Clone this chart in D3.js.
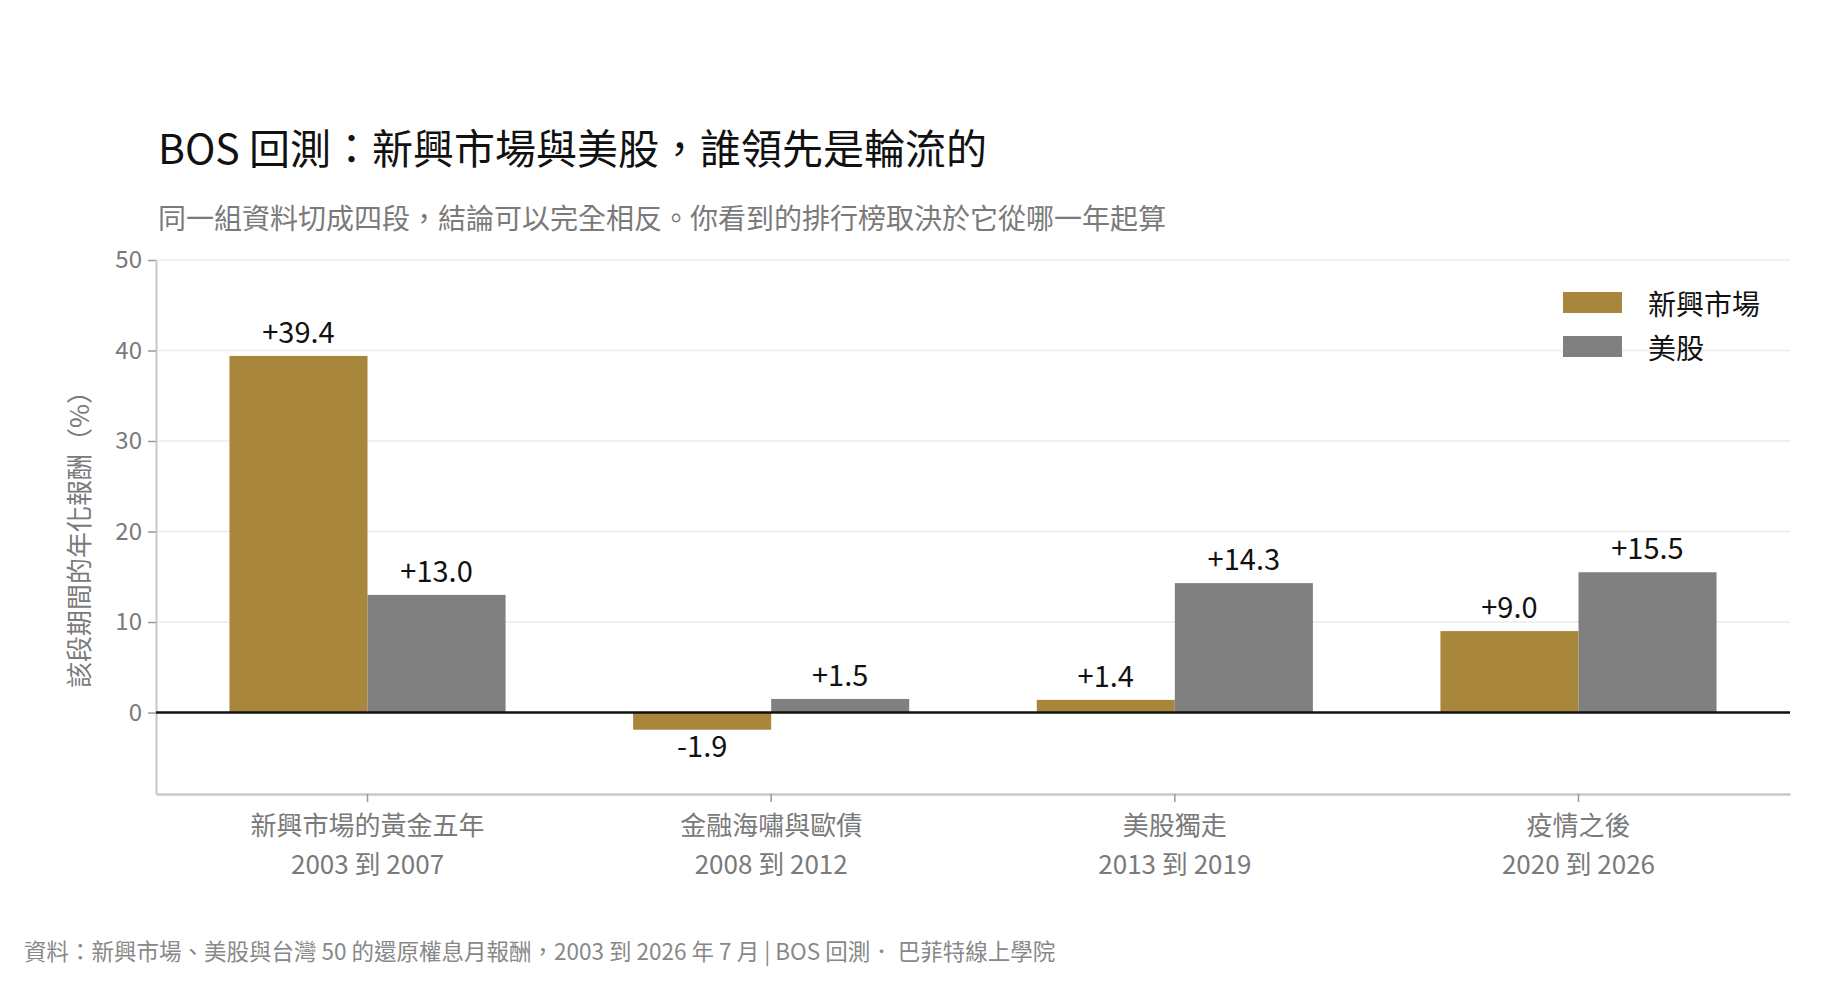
<!DOCTYPE html>
<html><head><meta charset="utf-8">
<script src="https://cdn.jsdelivr.net/npm/d3@7"></script>
<style>
html,body{margin:0;padding:0;background:#fff;}
svg text{font-family:"Noto Sans CJK TC","Noto Sans",sans-serif;}
</style></head>
<body>
<svg id="chart" width="1836" height="986"></svg>
<script>
const categories = ["新興市場的黃金五年","金融海嘯與歐債","美股獨走","疫情之後"];
const periods = ["2003 到 2007","2008 到 2012","2013 到 2019","2020 到 2026"];
const seriesNames = ["新興市場","美股"];
const emValues = [39.4, -1.9, 1.4, 9.0];
const usValues = [13.0, 1.5, 14.3, 15.5];
const yTicks = [0,10,20,30,40,50];
const colors = ["#a8873c","#808080"];

const svg = d3.select("#chart");
const L=156, R=1790, T=260, B=794;

const x0 = d3.scaleBand().domain(categories).range([L,R]).paddingInner(0.316).paddingOuter(0.182);
const x1 = d3.scaleBand().domain(seriesNames).range([0,x0.bandwidth()]);
const y = d3.scaleLinear().domain([-9,50]).range([B,T]);

// gridlines
svg.append("g").selectAll("line").data(yTicks).join("line")
  .attr("x1",L).attr("x2",R).attr("y1",d=>y(d)).attr("y2",d=>y(d))
  .attr("stroke","#ebebeb").attr("stroke-width",1.5);

// left axis
const ga = svg.append("g").attr("transform",`translate(${L},0)`)
  .call(d3.axisLeft(y).tickValues(yTicks).tickSize(8).tickSizeOuter(0).tickPadding(6));
ga.select(".domain").attr("stroke","#c8c8c8").attr("stroke-width",2);
ga.selectAll(".tick line").attr("stroke","#999").attr("stroke-width",1.5);
ga.selectAll(".tick text").attr("fill","#7a7a7a").attr("font-size",24)
  .style("font-family",'"Noto Sans CJK TC",sans-serif');

// bottom axis
const gb = svg.append("g").attr("transform",`translate(0,${B})`)
  .call(d3.axisBottom(x0).tickSize(8).tickSizeOuter(0).tickFormat(""));
gb.select(".domain").attr("stroke","#c8c8c8").attr("stroke-width",2.5);
gb.selectAll(".tick line").attr("stroke","#999").attr("stroke-width",1.5);

// category labels
const catG = svg.append("g");
categories.forEach((c,i)=>{
  const cx = x0(c)+x0.bandwidth()/2;
  catG.append("text").attr("x",cx).attr("y",823).attr("text-anchor","middle")
    .attr("dominant-baseline","central").attr("font-size",26).attr("fill","#7a7a7a").text(c);
  catG.append("text").attr("x",cx).attr("y",862).attr("text-anchor","middle")
    .attr("dominant-baseline","central").attr("font-size",26).attr("fill","#7a7a7a").text(periods[i]);
});

// bars
const data = categories.map((c,i)=>({cat:c, vals:[{s:seriesNames[0],v:emValues[i],k:0},{s:seriesNames[1],v:usValues[i],k:1}]}));
const groups = svg.append("g").selectAll("g").data(data).join("g")
  .attr("transform",d=>`translate(${x0(d.cat)},0)`);
groups.selectAll("rect").data(d=>d.vals).join("rect")
  .attr("x",d=>x1(d.s)).attr("width",x1.bandwidth())
  .attr("y",d=>y(Math.max(0,d.v))).attr("height",d=>Math.abs(y(d.v)-y(0)))
  .attr("fill",d=>colors[d.k]);
groups.selectAll("text").data(d=>d.vals).join("text")
  .attr("x",d=>x1(d.s)+x1.bandwidth()/2)
  .attr("y",d=>d.v>=0 ? y(d.v)-13 : y(d.v)+27)
  .attr("text-anchor","middle").attr("font-size",29).attr("fill","#111")
  .text(d=>(d.v>=0?"+":"")+d.v.toFixed(1));

// zero line
svg.append("line").attr("x1",L).attr("x2",R).attr("y1",y(0)).attr("y2",y(0))
  .attr("stroke","#111").attr("stroke-width",2.5);

// y label
svg.append("text").attr("transform",`translate(77,${(T+B)/2+6}) rotate(-90)`)
  .attr("text-anchor","middle").attr("dominant-baseline","central")
  .attr("font-size",26).attr("fill","#7a7a7a").text("該段期間的年化報酬（%）");

// legend
const lg = svg.append("g");
seriesNames.forEach((s,i)=>{
  lg.append("rect").attr("x",1563).attr("y",292+i*44).attr("width",59).attr("height",21).attr("fill",colors[i]);
  lg.append("text").attr("x",1648).attr("y",303+i*44).attr("dominant-baseline","central")
    .attr("font-size",28).attr("fill","#111").text(s);
});

// titles
svg.append("text").attr("x",158).attr("y",146).attr("dominant-baseline","central")
  .attr("font-size",41).attr("font-weight",400).attr("fill","#111")
  .text("BOS 回測：新興市場與美股，誰領先是輪流的");
svg.append("text").attr("x",158).attr("y",217).attr("dominant-baseline","central")
  .attr("font-size",28).attr("fill","#7a7a7a")
  .text("同一組資料切成四段，結論可以完全相反。你看到的排行榜取決於它從哪一年起算");
svg.append("text").attr("x",24).attr("y",950).attr("dominant-baseline","central")
  .attr("font-size",22.5).attr("fill","#888")
  .text("資料：新興市場、美股與台灣 50 的還原權息月報酬，2003 到 2026 年 7 月 | BOS 回測． 巴菲特線上學院");
</script>
</body></html>
